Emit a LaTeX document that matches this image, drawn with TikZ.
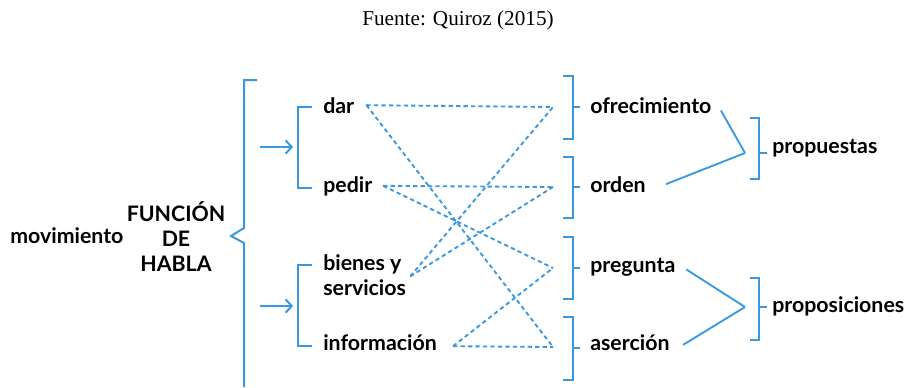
\documentclass[tikz,border=0pt]{standalone}
\usepackage{fontspec}
\setmainfont{Liberation Serif}
\newfontfamily\wordfont{Lato}
\usetikzlibrary{positioning,arrows.meta}

\definecolor{lineblue}{RGB}{58,152,222}

\tikzset{
  word/.style={font=\wordfont\bfseries\fontsize{16}{18.75}\selectfont, inner sep=0pt, anchor=base west},
  brack/.style={draw=lineblue, line width=1.5pt},
  dots/.style={draw=lineblue, line width=1.4pt, dash pattern=on 3.2pt off 2.4pt},
  link/.style={draw=lineblue, line width=1.4pt},
  into/.style={draw=lineblue, line width=1.5pt, -{Straight Barb[length=4.5pt, width=10pt, line width=1.5pt]}},
}

\begin{document}
\begin{tikzpicture}[x=0.75pt, y=-0.75pt]
        \useasboundingbox (0,0) rectangle (910,387);

        % Title
        \node [font=\fontsize{15.9}{18}\selectfont] (src) at (458,20) {Fuente: Quiroz (2015)};

        % Left side
        \node [word] (mov) at (10,243) {movimiento};
        \node [word, align=center, anchor=center] (fun) at (176,237) {FUNCIÓN\\DE\\HABLA};
        \draw [brack] (257,80) -- (244,80) -- (244,228) -- (231,236) -- (244,243) -- (244,387);

        % Arrows
        \coordinate (upin) at (293,147);
        \coordinate (lowin) at (293,306);
        \draw [into] (260,147) -- (upin);
        \draw [into] (260,306) -- (lowin);

        % Middle column
        \draw [brack] (312,107) -- (298,107) -- (298,188) -- (312,188);
        \draw [brack] (312,265) -- (298,265) -- (298,346) -- (312,346);
        \node [word] (dar) at (323,113) {dar};
        \node [word] (ped) at (323,192) {pedir};
        \node [word, align=left, anchor=west] (bie) at (323,275) {bienes y\\servicios};
        \node [word] (inf) at (323,350) {información};

        % Right column
        \foreach \t/\b/\m in {76/139/107, 157/218/187, 237/299/268, 317/380/348}
          \draw [brack] (563,\t) -- (573,\t) -- (573,\b) -- (563,\b)
                        (573,\m) -- (580,\m);
        \coordinate (ofrin) at (553,107);
        \coordinate (ordin) at (553,187);
        \coordinate (prein) at (553,268);
        \coordinate (asein) at (553,347);
        \node [word] (ofr) at (590,113) {ofrecimiento};
        \node [word] (ord) at (590,192) {orden};
        \node [word] (pre) at (590,272) {pregunta};
        \node [word] (ase) at (590,350) {aserción};

        % Dotted links
        \draw [dots] ([xshift=9pt]dar.east) -- (ofrin);
        \draw [dots] ([xshift=9pt]dar.east) -- (asein);
        \draw [dots] ([xshift=8pt]ped.east) -- (ordin);
        \draw [dots] ([xshift=8pt]ped.east) -- (prein);
        \draw [dots] ([xshift=3pt,yshift=-1pt]bie.east) -- (ofrin);
        \draw [dots] ([xshift=3pt,yshift=-1pt]bie.east) -- (ordin);
        \draw [dots] ([xshift=12pt,yshift=-3pt]inf.east) -- (asein);
        \draw [dots] ([xshift=12pt,yshift=-3pt]inf.east) -- (prein);

        % Outer groups
        \coordinate (pv) at (745,153);
        \coordinate (qv) at (745,307);
        \draw [brack] (750,118) -- (759,118) -- (759,179) -- (750,179)
                      (759,153) -- (767,153);
        \draw [brack] (750,278) -- (759,278) -- (759,340) -- (750,340)
                      (759,307) -- (767,307);
        \node [word] (pro) at (772,153) {propuestas};
        \node [word] (pos) at (772,312) {proposiciones};
        \draw [link] ([xshift=7pt,yshift=-4pt]ofr.east) -- (pv);
        \draw [link] ([xshift=15pt]ord.east) -- (pv);
        \draw [link] ([xshift=8pt,yshift=-2pt]pre.east) -- (qv);
        \draw [link] ([xshift=10pt,yshift=-2pt]ase.east) -- (qv);
\end{tikzpicture}
\end{document}
